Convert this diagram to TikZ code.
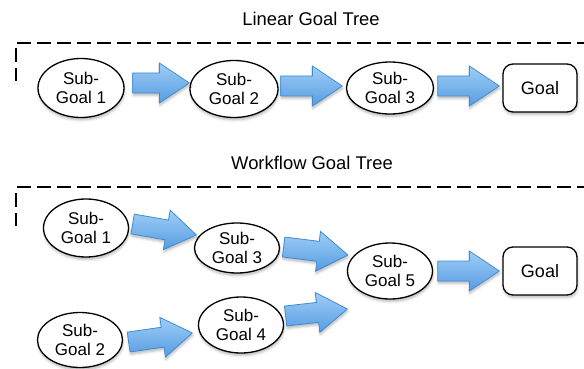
\documentclass[tikz,border=0pt]{standalone}
\usepackage{fontspec}
\setmainfont{Liberation Sans}
\usetikzlibrary{calc,shapes.geometric,shadows,shadows.blur}

\definecolor{arrowtop}{RGB}{158,206,246}
\definecolor{arrowbottom}{RGB}{88,156,226}
\definecolor{arrowedge}{RGB}{62,140,214}

\tikzset{
  softshadow/.style={blur shadow={shadow xshift=0.5pt, shadow yshift=-2.5pt,
      shadow blur radius=2.5pt, shadow opacity=28}},
  goalell/.style={ellipse, draw=black, line width=1.3pt, fill=white, inner sep=0pt,
      align=center, font=\fontsize{17}{19.5}\selectfont, softshadow},
  goalbox/.style={rectangle, rounded corners=10pt, draw=black, line width=1.3pt,
      fill=white, minimum width=74pt, minimum height=48pt,
      font=\fontsize{18}{20}\selectfont, softshadow},
  treetitle/.style={font=\fontsize{18.4}{21}\selectfont},
  region/.style={draw=black, line width=1.2pt, dash pattern=on 14pt off 6pt},
  fatarrow/.style={draw=arrowedge, line width=0.8pt, line join=miter,
      top color=arrowtop, bottom color=arrowbottom, softshadow},
}

% block arrow from coordinate #1 to tip #2
\newcommand\blockarrow[2]{%
  \coordinate (ba-h) at ($(#2)!30pt!(#1)$);
  \path[fatarrow] ($(#1)!10pt!90:(#2)$) -- ($(ba-h)!10pt!-90:(#1)$)
    -- ($(ba-h)!20pt!-90:(#1)$) -- (#2) -- ($(ba-h)!20pt!90:(#1)$)
    -- ($(ba-h)!10pt!90:(#1)$) -- ($(#1)!10pt!-90:(#2)$) -- cycle;
}

\begin{document}
\begin{tikzpicture}[x=1pt, y=-1pt]
\useasboundingbox (0,0) rectangle (584,369);

% ---------- linear goal tree ----------
\node[treetitle] (ltitle) at (311,19) {Linear Goal Tree};
\draw[region] (17,43) -- (584,43);
\draw[region] (16,48) -- (16,81);

\node[goalell, minimum width=86pt, minimum height=59pt] (sg1) at (81,88) {Sub-\\Goal 1};
\node[goalell, minimum width=88pt, minimum height=57pt] (sg2) at (234,89) {Sub-\\Goal 2};
\node[goalell, minimum width=87pt, minimum height=52pt] (sg3) at (390,88) {Sub-\\Goal 3};
\node[goalbox] (goal) at (540,88) {Goal};

\coordinate (l1s) at ([shift={(8pt,5pt)}]sg1.east);
\coordinate (l1e) at ([shift={(0pt,6pt)}]sg2.west);
\coordinate (l2s) at ([shift={(2pt,3pt)}]sg2.east);
\coordinate (l2e) at ([shift={(-3.5pt,2pt)}]sg3.west);
\coordinate (l3s) at ([shift={(3.5pt,2pt)}]sg3.east);
\coordinate (l3e) at ([shift={(-3pt,2pt)}]goal.west);
\blockarrow{l1s}{l1e}
\blockarrow{l2s}{l2e}
\blockarrow{l3s}{l3e}

% ---------- workflow goal tree ----------
\node[treetitle] (wtitle) at (312,163) {Workflow Goal Tree};
\draw[region] (17,187) -- (584,187);
\draw[region] (16,193) -- (16,226);

\node[goalell, minimum width=85pt, minimum height=58pt] (w1) at (86,228) {Sub-\\Goal 1};
\node[goalell, minimum width=85pt, minimum height=50pt] (w3) at (237,248) {Sub-\\Goal 3};
\node[goalell, minimum width=85pt, minimum height=55pt] (w2) at (80,340) {Sub-\\Goal 2};
\node[goalell, minimum width=85pt, minimum height=56pt] (w4) at (241,325) {Sub-\\Goal 4};
\node[goalell, minimum width=85pt, minimum height=56pt] (w5) at (390,271) {Sub-\\Goal 5};
\node[goalbox] (wgoal) at (540,271) {Goal};

\coordinate (w1s) at ([shift={(3.5pt,4pt)}]w1.east);
\coordinate (w1e) at ([shift={(2.5pt,13pt)}]w3.west);
\coordinate (w2s) at ([shift={(3.5pt,1pt)}]w3.east);
\coordinate (w2e) at ([shift={(1pt,16pt)}]w5.west);
\coordinate (w3s) at ([shift={(1.5pt,9pt)}]w4.east);
\coordinate (w3e) at ([shift={(0.5pt,-38pt)}]w5.west);
\coordinate (w4s) at ([shift={(5.5pt,-2pt)}]w2.east);
\coordinate (w4e) at ([shift={(-5.5pt,-8pt)}]w4.west);
\coordinate (w5s) at ([shift={(4.5pt,0pt)}]w5.east);
\coordinate (w5e) at ([shift={(-3pt,0pt)}]wgoal.west);
\blockarrow{w1s}{w1e}
\blockarrow{w2s}{w2e}
\blockarrow{w3s}{w3e}
\blockarrow{w4s}{w4e}
\blockarrow{w5s}{w5e}
\end{tikzpicture}
\end{document}
